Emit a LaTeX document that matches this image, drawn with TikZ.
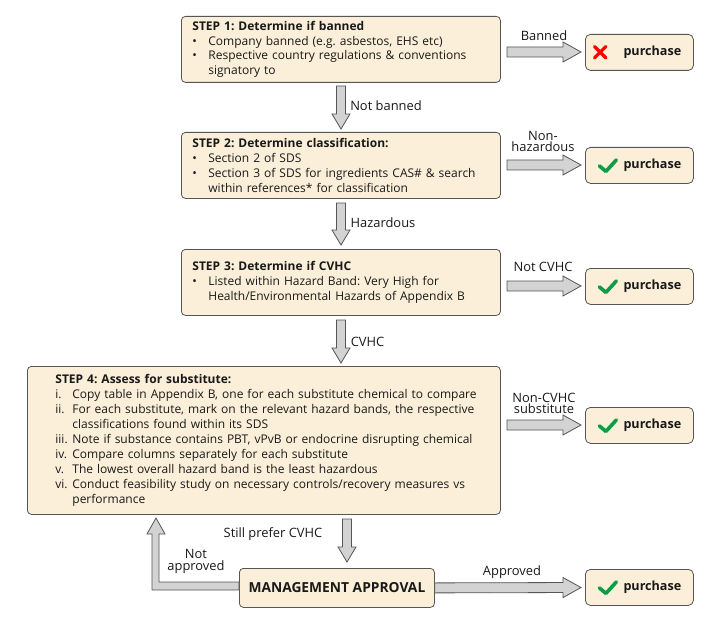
\documentclass[tikz,border=0pt]{standalone}
\usepackage{fontspec}
\setmainfont{Open Sans}
\usetikzlibrary{calc}
\definecolor{boxfill}{HTML}{FBEFD9}
\definecolor{edge}{HTML}{555555}
\definecolor{arrowfill}{HTML}{D3D3D3}
\definecolor{okgreen}{HTML}{0E9C47}
\newcommand\bul{\makebox[16pt][l]{\hspace{0pt}•}}
\newcommand\rom[1]{\makebox[31pt][l]{\hspace{14pt}#1}}
\tikzset{
  x=1pt,y=-1pt,
  every node/.style={font=\frenchspacing\fontsize{12}{14.9}\selectfont,text=black!90},
  stepbox/.style={draw=edge,fill=boxfill,line width=0.8pt,rounded corners=4pt,anchor=north west,align=left,inner sep=0pt},
  buybox/.style={draw=edge,fill=boxfill,line width=0.8pt,rounded corners=5pt,anchor=north west,minimum width=108pt,minimum height=36pt,inner sep=0pt},
  lab/.style={inner sep=0pt,align=center,font=\frenchspacing\fontsize{12.9}{11.5}\selectfont},
  blockfill/.style={draw=edge,fill=arrowfill,line width=0.8pt,line join=miter},
  tick/.style={draw=okgreen,line width=3.6pt,line cap=round,line join=round},
  cross/.style={draw=red,line width=3.2pt,line cap=round}
}
% #1 start, #2 end, #3 shaft half-width, #4 head half-width, #5 head length
\newcommand\blockarrow[5]{%
  \coordinate (ba) at ($(#2)!#5pt!(#1)$);
  \draw[blockfill] ($(#1)!#3pt!90:(#2)$) -- ($(ba)!#3pt!90:(#2)$) -- ($(ba)!#4pt!90:(#2)$) -- (#2)
    -- ($(ba)!#4pt!-90:(#2)$) -- ($(ba)!#3pt!-90:(#2)$) -- ($(#1)!#3pt!-90:(#2)$) -- cycle;}
\newcommand\buy[3]{%
  \node[buybox] (#1) at (585,#2) {};
  \node[inner sep=0pt,font=\fontsize{12.6}{14}\bfseries\selectfont] (#1t) at ($(#1.center)+(13,0)$) {purchase};
  #3{#1}}
\newcommand\okmark[1]{\draw[tick] ($(#1.center)+(-40,0.5)$) -- ($(#1.center)+(-33.5,6)$) -- ($(#1.center)+(-23,-5.5)$);}
\newcommand\nomark[1]{\draw[cross] ($(#1.center)+(-45,-6)$) -- ($(#1.center)+(-33.5,5.5)$) ($(#1.center)+(-33.5,-6)$) -- ($(#1.center)+(-45,5.5)$);}
\begin{document}
\begin{tikzpicture}
\useasboundingbox (0,0) rectangle (723,623);
\node[stepbox,minimum width=319pt,minimum height=66pt,text width=297pt] (s1) at (181,16) {%
  \textbf{STEP 1: Determine if banned}\\
  \bul Company banned (e.g. asbestos, EHS etc)\\
  \bul Respective country regulations \& conventions\\
  \hspace*{16pt}signatory to};
\node[stepbox,minimum width=319pt,minimum height=66pt,text width=297pt] (s2) at (181,132) {%
  \textbf{STEP 2: Determine classification:}\\
  \bul Section 2 of SDS\\
  \bul Section 3 of SDS for ingredients CAS\# \& search\\
  \hspace*{16pt}within references* for classification};
\node[stepbox,minimum width=319pt,minimum height=66pt,text width=297pt] (s3) at (181,249) {%
  \textbf{STEP 3: Determine if CVHC}\\
  \bul Listed within Hazard Band: Very High for\\
  \hspace*{16pt}Health/Environmental Hazards of Appendix B};
\node[stepbox,minimum width=473pt,minimum height=148pt,text width=445pt] (s4) at (27,366) {%
  \hspace*{14pt}\textbf{STEP 4: Assess for substitute:}\\
  \rom{i.}Copy table in Appendix B, one for each substitute chemical to compare\\
  \rom{ii.}For each substitute, mark on the relevant hazard bands, the respective\\
  \rom{}classifications found within its SDS\\
  \rom{iii.}Note if substance contains PBT, vPvB or endocrine disrupting chemical\\
  \rom{iv.}Compare columns separately for each substitute\\
  \rom{v.}The lowest overall hazard band is the least hazardous\\
  \rom{vi.}Conduct feasibility study on necessary controls/recovery measures vs\\
  \rom{}performance};
\node[stepbox,minimum width=195pt,minimum height=39pt,align=center,font=\fontsize{13.8}{16}\bfseries\selectfont] (m) at (239,568) {MANAGEMENT APPROVAL};
\buy{p1}{34}{\nomark}
\buy{p2}{147}{\okmark}
\buy{p3}{268}{\okmark}
\buy{p4}{407}{\okmark}
\buy{p5}{569}{\okmark}
\coordinate (d1a) at (341,86); \coordinate (d1b) at (341,129);
\coordinate (d2a) at (341,203); \coordinate (d2b) at (341,245);
\coordinate (d3a) at (341,320); \coordinate (d3b) at (341,363);
\coordinate (d4a) at (347,519); \coordinate (d4b) at (347,562);
\blockarrow{d1a}{d1b}{4.5}{9}{15}
\blockarrow{d2a}{d2b}{4.5}{9}{15}
\blockarrow{d3a}{d3b}{4.5}{9}{15}
\blockarrow{d4a}{d4b}{4.5}{9}{15}
\foreach \n/\y in {1/52,2/165,3/286,4/425}{
  \coordinate (ra) at (507,\y); \coordinate (rb) at (581,\y);
  \blockarrow{ra}{rb}{5}{10}{18}}
\coordinate (rb) at (581,587.5);
\blockarrow{m.east}{rb}{5}{10}{18}
\draw[blockfill] (m.west |- 0,582) -- (159,582) -- (159,534) -- (165,534) -- (156,518) -- (147,534) -- (152,534) -- (152,590) -- (m.west |- 0,590) -- cycle;
\node[lab] (l1) at (386,106) {Not banned};
\node[lab] (l2) at (383,223) {Hazardous};
\node[lab] (l3) at (367.5,342) {CVHC};
\node[lab] (l4) at (273,534) {Still prefer CVHC};
\node[lab] (l5) at (196,561.5) {Not\\approved};
\node[lab] (l6) at (544,36) {Banned};
\node[lab] (l7) at (543,141.5) {Non-\\hazardous};
\node[lab] (l8) at (543,267) {Not CVHC};
\node[lab] (l9) at (544,403.5) {Non-CVHC\\substitute};
\node[lab] (l10) at (512,572) {Approved};
\end{tikzpicture}
\end{document}
